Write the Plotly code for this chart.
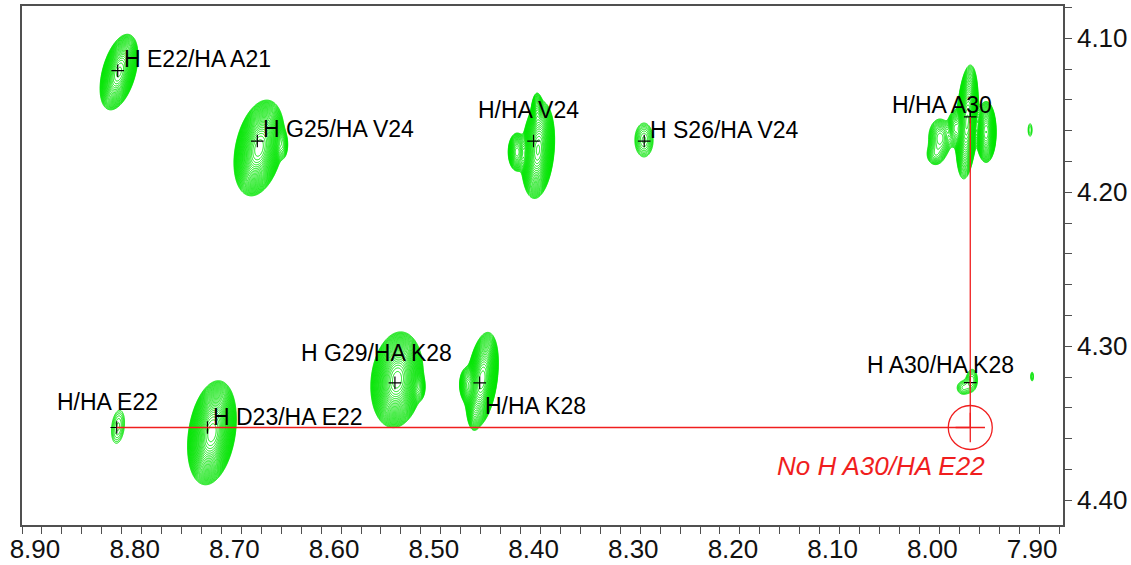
import numpy as np
import plotly.graph_objects as go

# ---------------- data (ppm values) ----------------
peak_labels = ["H E22/HA A21", "H G25/HA V24", "H/HA V24", "H S26/HA V24", "H/HA A30",
               "H A30/HA K28", "H/HA E22", "H D23/HA E22", "H G29/HA K28", "H/HA K28"]
peak_x = [8.817, 8.677, 8.400, 8.289, 7.962, 7.962, 8.818, 8.727, 8.539, 8.454]
peak_y = [4.121, 4.1667, 4.1667, 4.1667, 4.151, 4.3235, 4.3527, 4.3527, 4.3237, 4.3237]

# spectral components forming the contoured cross peaks
comp_group = [0, 1, 1, 2, 2, 2, 3, 4, 4, 4, 4, 4, 5, 6, 6, 7, 8, 9, 10, 10, 11, 11, 11]
comp_x = [8.8157, 8.6753, 8.6513, 8.3955, 8.3965, 8.4165, 8.2892, 7.9652, 7.9461, 7.9923,
          7.9772, 7.9973, 7.9020, 7.9602, 7.9692, 7.9000, 8.8167, 8.7225, 8.5369, 8.5138,
          8.4517, 8.4667, 8.4597]
comp_y = [4.1219, 4.1712, 4.1693, 4.1725, 4.1478, 4.1738, 4.1660, 4.1543, 4.1608, 4.1647,
          4.1582, 4.1757, 4.1595, 4.3217, 4.3269, 4.3196, 4.3522, 4.3561, 4.3217, 4.3269,
          4.3217, 4.3249, 4.3444]
comp_sx = [0.0064, 0.0080, 0.0030, 0.0057, 0.0025, 0.0040, 0.0060, 0.0040, 0.0040, 0.0060,
           0.0035, 0.0050, 0.0022, 0.0040, 0.0050, 0.0015, 0.0052, 0.0079, 0.0087, 0.0030,
           0.0055, 0.0038, 0.0030]
comp_sy = [0.0092, 0.0104, 0.0052, 0.0110, 0.0058, 0.0055, 0.0072, 0.0136, 0.0078, 0.0065,
           0.0055, 0.0040, 0.0045, 0.0050, 0.0035, 0.0032, 0.0088, 0.0113, 0.0104, 0.0045,
           0.0110, 0.0055, 0.0052]
comp_k = [0.34, 0.25, 0.0, 0.11, 0.0, 0.0, 0.0, 0.09, 0.0, 0.0,
          0.0, 0.0, 0.0, 0.0, 0.0, 0.0, 0.15, 0.19, 0.12, 0.0,
          0.19, 0.0, 0.0]
comp_amp = [35, 87, 3, 60, 8, 12, 3.2, 40, 25, 6,
            8, 3, 1.5, 2.5, 2.0, 1.5, 2.1, 87, 87, 3,
            50, 7, 3]

missing_label = "No H A30/HA E22"
x_tick_vals = [8.90, 8.80, 8.70, 8.60, 8.50, 8.40, 8.30, 8.20, 8.10, 8.00, 7.90]
y_tick_vals = [4.10, 4.20, 4.30, 4.40]

# ---------------- styling ----------------
GREEN = "rgb(0,230,0)"
RED = "rgb(240,30,30)"
AXIS = "#505050"
FONT = "Liberation Sans"
LEVEL_RATIO = 1.15

fig = go.Figure()

cx = np.array(comp_x); cy = np.array(comp_y)
sx = np.array(comp_sx); sy = np.array(comp_sy)
kk = np.array(comp_k); amp = np.array(comp_amp, dtype=float)
groups = np.array(comp_group)

for g in sorted(set(comp_group)):
    idx = np.where(groups == g)[0]
    x0 = min(cx[i] - 4.2 * sx[i] - abs(kk[i]) * 4.2 * sy[i] for i in idx)
    x1 = max(cx[i] + 4.2 * sx[i] + abs(kk[i]) * 4.2 * sy[i] for i in idx)
    y0 = min(cy[i] - 4.2 * sy[i] for i in idx)
    y1 = max(cy[i] + 4.2 * sy[i] for i in idx)
    xs = np.arange(x0, x1, 0.0005)
    ys = np.arange(y0, y1, 0.00035)
    X, Y = np.meshgrid(xs, ys)
    Z = np.zeros_like(X)
    for i in idx:
        u = (X - cx[i] - kk[i] * (Y - cy[i])) / sx[i]
        v = (Y - cy[i]) / sy[i]
        Z += amp[i] * np.exp(-0.5 * (u * u + v * v))
    L = np.log(np.maximum(Z, 1e-3)) / np.log(LEVEL_RATIO)
    fig.add_trace(go.Contour(
        x=np.round(xs, 5), y=np.round(ys, 5), z=np.round(L, 3),
        autocontour=False,
        contours=dict(start=0, end=40, size=1, coloring="lines"),
        colorscale=[[0, GREEN], [1, GREEN]], showscale=False,
        line=dict(width=1), hoverinfo="skip"))

# peak crosses
fig.add_trace(go.Scatter(
    x=peak_x, y=peak_y, mode="markers",
    marker=dict(symbol="cross-thin", size=9, line=dict(color="black", width=1.2)),
    hoverinfo="skip", showlegend=False))

# missing peak: H of A30 with HA of E22
mx, my = peak_x[4], peak_y[6]
fig.add_trace(go.Scatter(
    x=[mx], y=[my], mode="markers",
    marker=dict(symbol="cross-thin", size=21, line=dict(color=RED, width=1.3)),
    hoverinfo="skip", showlegend=False))

fig.add_shape(type="line", x0=peak_x[6], x1=mx, y0=my, y1=my,
              line=dict(color=RED, width=1.3), layer="above")
fig.add_shape(type="line", x0=mx, x1=mx, y0=peak_y[4], y1=my,
              line=dict(color=RED, width=1.3), layer="above")
fig.add_shape(type="circle", xsizemode="pixel", ysizemode="pixel",
              xanchor=mx, yanchor=my, x0=-22, x1=22, y0=-22, y1=22,
              line=dict(color=RED, width=1.3), layer="above")

# label placement (pixel offsets from each cross)
label_anchor = ["left", "left", "center", "left", "right", "right", "center", "left", "center", "left"]
label_dx = [4, 4, -5, 4, 24, 46, -9, 4, -18, 3]
label_dy = [12, 12, 31, 11, 12, 18, 26, 11, 30, -23]

for i, txt in enumerate(peak_labels):
    fig.add_annotation(x=peak_x[i], y=peak_y[i], text=txt, showarrow=False,
                       xanchor=label_anchor[i], yanchor="middle",
                       xshift=label_dx[i], yshift=label_dy[i],
                       font=dict(family=FONT, size=23, color="black"))

fig.add_annotation(x=mx, y=my, text=missing_label, showarrow=False,
                   xanchor="center", yanchor="middle", xshift=-89, yshift=-38,
                   font=dict(family=FONT, size=26, color=RED, style="italic"))

fig.update_layout(
    width=1131, height=565,
    margin=dict(l=22, r=68, t=6, b=40, autoexpand=False),
    paper_bgcolor="white", plot_bgcolor="white",
    showlegend=False,
    xaxis=dict(range=[8.913, 7.869], showgrid=False, zeroline=False, automargin=False,
               showline=True, linecolor=AXIS, linewidth=1.5, mirror=True,
               tickmode="array", tickvals=x_tick_vals, tickformat=".2f",
               ticks="", tickfont=dict(family=FONT, size=26, color="#111"),
               ticklabelstandoff=0,
               minor=dict(ticks="outside", ticklen=7, tickcolor=AXIS, tickwidth=1.3,
                          tick0=8.913, dtick=0.02, showgrid=False)),
    yaxis=dict(range=[4.416, 4.079], showgrid=False, zeroline=False, automargin=False,
               showline=True, linecolor=AXIS, linewidth=1.5, mirror=True,
               side="right", tickmode="array", tickvals=y_tick_vals, tickformat=".2f",
               ticks="outside", ticklen=7, tickcolor=AXIS, tickwidth=1.3,
               tickfont=dict(family=FONT, size=26, color="#111"),
               minor=dict(ticks="outside", ticklen=7, tickcolor=AXIS, tickwidth=1.3,
                          tick0=4.0, dtick=0.02, showgrid=False)),
)

fig.write_html("out.html")
